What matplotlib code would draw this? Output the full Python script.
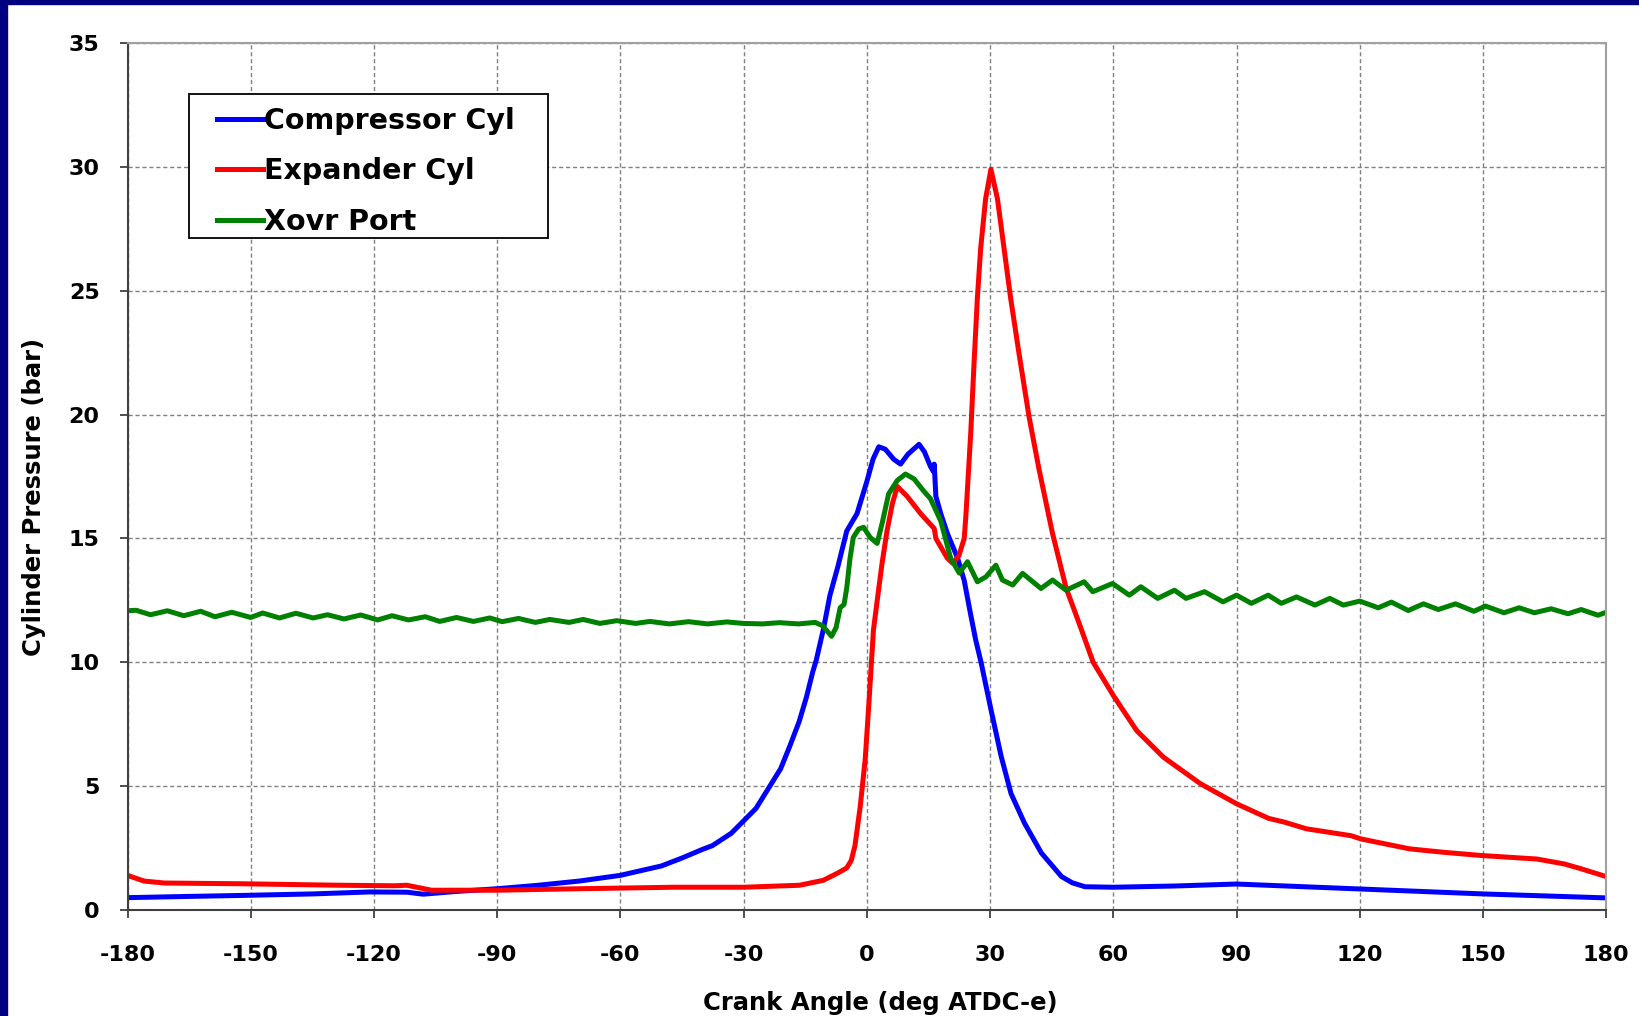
#importing the libraries used for the plot
import matplotlib
matplotlib.use("Agg")
import matplotlib.pyplot as plt
from matplotlib.patches import Rectangle

#Compressor cylinder pressure (bar) against crank angle (deg ATDC-e)
comp_angle = [-180, -165, -152, -135, -121, -112, -108, -100, -90, -80, -70, -60,
              -50, -45, -40, -37.6, -33, -30, -27, -24, -21, -18.8, -16.5, -14.7,
              -13.2, -12.3, -10.5, -9, -7, -4.9, -2.4, 0, 1.5, 2.9, 4.5, 6.5, 8.2,
              10, 12.7, 14, 15.5, 16.2, 16.4, 16.8, 18, 19.6, 22.1, 23.7, 25.3,
              26.5, 27.8, 30.2, 32.7, 35.1, 38.4, 42.5, 47.4, 50, 53.1, 60, 75, 90,
              105, 120, 135, 150, 165, 180]
comp_press = [0.5, 0.55, 0.59, 0.65, 0.73, 0.72, 0.64, 0.75, 0.86, 1.0, 1.17, 1.4,
              1.78, 2.1, 2.45, 2.6, 3.1, 3.6, 4.1, 4.9, 5.7, 6.6, 7.6, 8.6,
              9.6, 10.1, 11.4, 12.7, 13.9, 15.3, 16.0, 17.3, 18.2, 18.7, 18.6, 18.2, 18.0,
              18.4, 18.8, 18.5, 17.9, 17.7, 18.0, 16.7, 16.0, 15.2, 14.2, 13.3, 11.9,
              10.9, 10.0, 8.1, 6.2, 4.7, 3.5, 2.3, 1.35, 1.1, 0.94, 0.92, 0.97, 1.05,
              0.95, 0.85, 0.75, 0.65, 0.57, 0.49]

#Expander cylinder pressure (bar)
exp_angle = [-180, -176, -171, -152, -128, -115, -112, -109, -106, -90, -70, -47,
             -30, -16.4, -10.6, -7, -4.9, -3.8, -2.9, -1.6, -0.4, 0.4, 1.6, 2.6,
             3.7, 4.9, 6.2, 7.4, 9.8, 13.1, 16.4, 16.8, 19.6, 20.9, 22.4, 23.7, 24.1,
             25.3, 26.1, 26.9, 27.7, 28.9, 30.2, 31.8, 33.4, 35.0, 37.1, 39.5, 41.9,
             45.2, 48.5, 51.4, 55.1, 60, 65.7, 72.2, 81.2, 90, 97.8, 101.6, 107,
             117.9, 120.3, 132.1, 140.5, 149.7, 163.1, 169.8, 174, 180]
exp_press = [1.4, 1.17, 1.09, 1.06, 1.0, 0.98, 1.0, 0.9, 0.8, 0.8, 0.86, 0.92,
             0.92, 1.0, 1.2, 1.5, 1.7, 2.0, 2.6, 4.2, 6.1, 8.1, 11.3, 12.6,
             14.0, 15.3, 16.4, 17.1, 16.7, 16.0, 15.4, 15.0, 14.2, 14.0, 14.3, 15.0, 15.9,
             19.3, 22.1, 24.7, 26.7, 28.7, 29.9, 28.7, 26.7, 24.7, 22.4, 19.9, 17.8,
             15.2, 13.0, 11.7, 10.0, 8.66, 7.24, 6.17, 5.1, 4.29, 3.7, 3.55, 3.28,
             3.0, 2.87, 2.47, 2.33, 2.2, 2.06, 1.86, 1.66, 1.35]

#Crossover port pressure (bar)
xovr_angle = [-180, -177.9, -174.4, -170.3, -166.3, -162.2, -158.7, -154.6, -150,
              -147.1, -143, -139, -134.8, -131.3, -127.3, -123.2, -119.1, -115.6,
              -111.6, -107.5, -104, -99.9, -95.8, -91.8, -88.8, -84.8, -80.7, -77.2,
              -72.5, -69.1, -65, -60.9, -56.3, -52.8, -48.1, -43.4, -38.8, -34.1,
              -30.1, -25.4, -21.3, -16.7, -12.6, -10.8, -8.6, -7.5, -6.5, -5.55,
              -4.9, -4.1, -3.3, -2.0, -0.8, 0.8, 2.5, 3.7, 5.3, 7.4, 9.4, 11.5, 13.9,
              15.5, 18.0, 20.4, 22.5, 24.5, 26.9, 29, 31.4, 33, 35.5, 37.9, 42.4,
              45.2, 48.5, 52.9, 55, 59.8, 63.9, 66.7, 70.8, 74.9, 77.7, 82.2, 86.7,
              90, 93.6, 97.7, 100.9, 104.6, 109.1, 112.7, 116, 120, 124.5, 127.7,
              131.8, 135.5, 139.1, 143.3, 147.8, 150.6, 155.1, 158.8, 162.5, 166.6,
              170.7, 173.9, 178, 180]
xovr_press = [12.08, 12.1, 11.92, 12.08, 11.88, 12.06, 11.84, 12.02, 11.81,
              11.99, 11.79, 11.98, 11.79, 11.92, 11.75, 11.91, 11.71, 11.88,
              11.71, 11.84, 11.65, 11.81, 11.65, 11.79, 11.64, 11.77, 11.61, 11.73,
              11.61, 11.73, 11.57, 11.68, 11.57, 11.65, 11.55, 11.64, 11.55, 11.63,
              11.57, 11.55, 11.6, 11.55, 11.61, 11.48, 11.05, 11.4, 12.2, 12.34,
              13.0, 14.2, 15.04, 15.38, 15.45, 15.04, 14.8, 15.6, 16.8, 17.34, 17.6, 17.4, 16.9,
              16.6, 15.7, 14.2, 13.6, 14.06, 13.25, 13.45, 13.92, 13.32, 13.12, 13.59, 12.98,
              13.32, 12.91, 13.25, 12.85, 13.18, 12.71, 13.05, 12.58, 12.91, 12.58, 12.85, 12.44,
              12.71, 12.38, 12.71, 12.38, 12.64, 12.31, 12.58, 12.31, 12.47, 12.2, 12.43,
              12.09, 12.36, 12.13, 12.36, 12.06, 12.27, 12.0, 12.2, 12.0, 12.16,
              11.96, 12.13, 11.9, 12.02]

x_ticks = list(range(-180, 181, 30))
y_ticks = list(range(0, 36, 5))

plt.rcParams['font.family'] = ['DejaVu Sans']
plt.rcParams['font.weight'] = 'bold'
plt.rcParams['axes.unicode_minus'] = False

fig = plt.figure(figsize=(16.39, 10.16), dpi=100, facecolor='white')
ax = fig.add_axes([0.0778, 0.1043, 0.9022, 0.8534])

#navy frame strips on the left and top edges
fig.patches.append(Rectangle((0, 0), 7 / 1639, 1, transform=fig.transFigure,
                             color='#000080', zorder=0))
fig.patches.append(Rectangle((0, 1 - 4 / 1016), 1, 4 / 1016, transform=fig.transFigure,
                             color='#000080', zorder=0))

#The three pressure traces
ax.plot(comp_angle, comp_press, color='#0000ff', linewidth=3.6, label='Compressor Cyl')
ax.plot(exp_angle, exp_press, color='#ff0000', linewidth=3.6, label='Expander Cyl')
ax.plot(xovr_angle, xovr_press, color='#008000', linewidth=3.6, label='Xovr Port')

ax.set_xlim(-180, 180)
ax.set_ylim(0, 35)
ax.set_xticks(x_ticks)
ax.set_yticks(y_ticks)
ax.grid(True, color='#808080', linestyle=(0, (3, 2)), linewidth=1)
ax.set_axisbelow(True)

ax.tick_params(direction='out', length=6, width=1.3, color='#404040', labelsize=16)
ax.tick_params(axis='x', pad=19.5)
ax.tick_params(axis='y', pad=14)
for lab in ax.get_xticklabels() + ax.get_yticklabels():
    lab.set_fontweight('bold')

for side in ['left', 'bottom']:
    ax.spines[side].set_color('#404040')
    ax.spines[side].set_linewidth(1.5)
for side in ['top', 'right']:
    ax.spines[side].set_color('#a0a0a0')
    ax.spines[side].set_linewidth(1.5)

ax.set_xlabel('Crank Angle (deg ATDC-e)', fontsize=17.5, fontweight='bold', va='center')
ax.xaxis.set_label_coords(0.509, -0.107)
ax.set_ylabel('Cylinder Pressure (bar)', fontsize=17.5, fontweight='bold', va='center')
ax.yaxis.set_label_coords(-0.063, 0.476)

#legend box drawn by hand so the padding matches the original
ax.add_patch(Rectangle((0.0416, 0.775), 0.2428, 0.1662, transform=ax.transAxes,
                       facecolor='white', edgecolor='black', linewidth=1.3, zorder=4))
leg = ax.legend(loc='upper left', bbox_to_anchor=(0.0608, 0.926), borderaxespad=0,
                fontsize=20.5, frameon=False, handlelength=1.6, handletextpad=0.05,
                labelspacing=0.78, borderpad=0)
leg.set_zorder(5)
for t in leg.get_texts():
    t.set_fontweight('bold')

fig.savefig('out.png', dpi=100, facecolor='white')
